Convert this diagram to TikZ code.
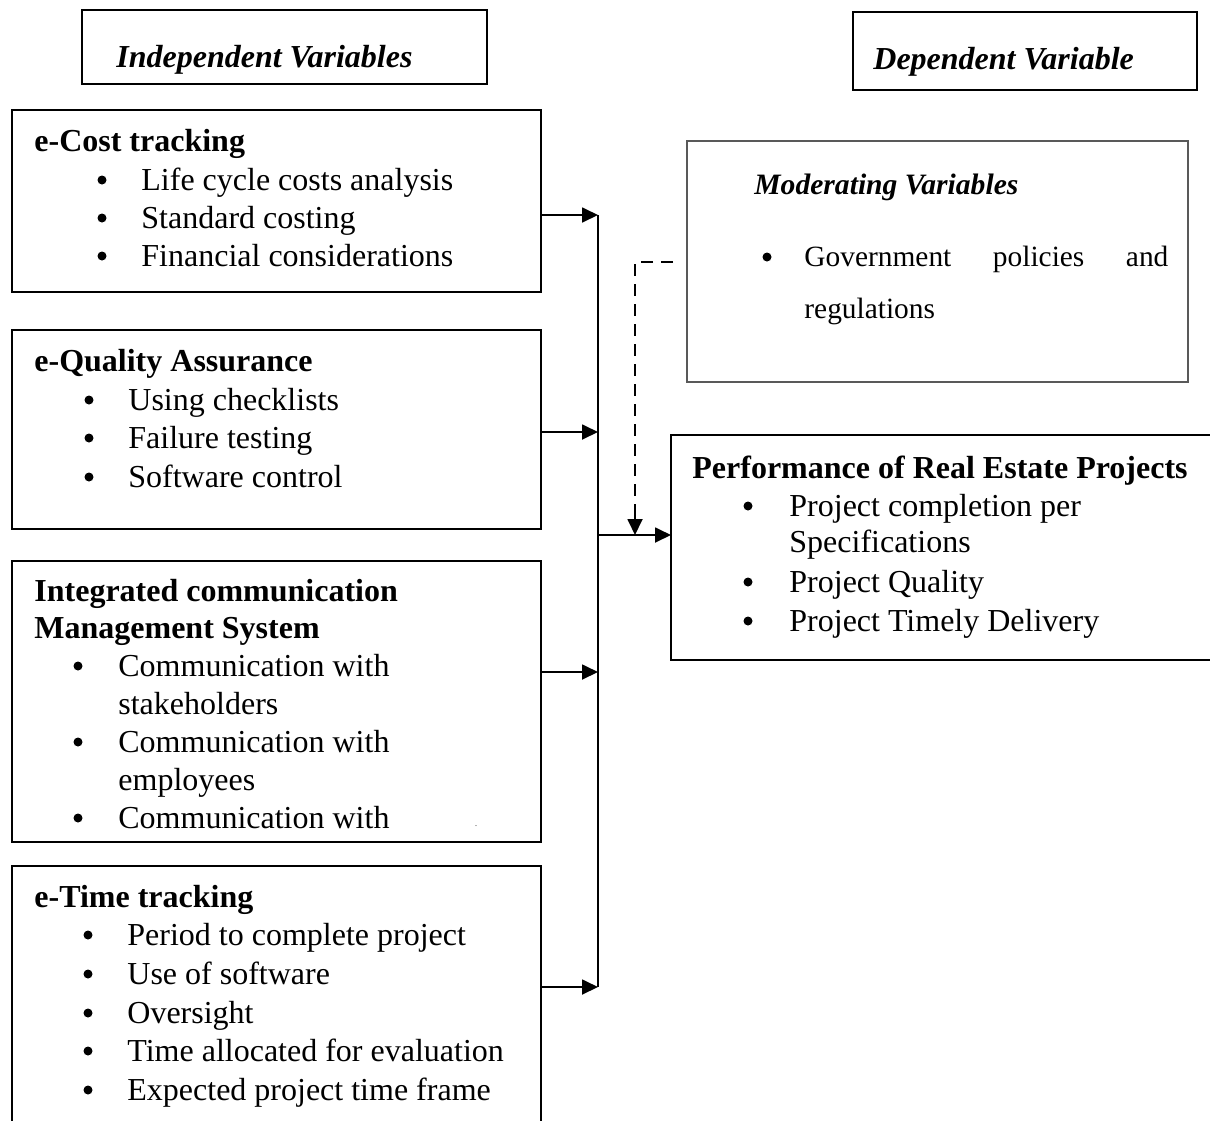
\documentclass[tikz,border=0pt]{standalone}
\usepackage{fontspec}
\setmainfont{Liberation Serif}
\usetikzlibrary{arrows.meta,calc}
\begin{document}
\begin{tikzpicture}[x=0.5pt,y=-0.5pt,
  every node/.style={font=\fontsize{16}{19}\selectfont},
  boxrect/.style={draw=black,line width=0.9pt,anchor=north west,inner sep=0pt,outer sep=0pt},
  modrect/.style={draw=black!65,line width=0.7pt,anchor=north west,inner sep=0pt,outer sep=0pt},
  txt/.style={anchor=base west,inner sep=0pt},
  mtxt/.style={anchor=base west,inner sep=0pt,font=\fontsize{14.7}{18}\selectfont},
  ttl/.style={anchor=base west,inner sep=0pt,font=\fontsize{16}{19}\selectfont\bfseries},
  hdr/.style={anchor=base west,inner sep=0pt,font=\fontsize{16}{19}\selectfont\bfseries\itshape},
  mhdr/.style={anchor=base west,inner sep=0pt,font=\fontsize{14.8}{18}\selectfont\bfseries\itshape},
  bul/.style={circle,fill=black,inner sep=0pt,minimum size=4.5pt},
  arr/.style={line width=0.9pt,-{Triangle[length=8pt,width=7.5pt]}},
  link/.style={line width=0.9pt},
  dsh/.style={line width=0.7pt,dash pattern=on 6pt off 4pt}
]
\useasboundingbox (0,0) rectangle (1210,1120);
\clip (0,0) rectangle (1210,1120);

% header boxes
\node[boxrect,minimum width=202.5pt,minimum height=37pt] (indep) at (82,10) {};
\node[hdr] (indept) at (116,67) {Independent Variables};
\node[boxrect,minimum width=172pt,minimum height=39pt] (dep) at (853,12) {};
\node[hdr] (dept) at (873,69) {Dependent Variable};

% e-Cost tracking
\node[boxrect,minimum width=264.5pt,minimum height=91pt] (cost) at (12,110) {};
\node[ttl] (costt) at (34,151) {e-Cost tracking};
\node[bul] (cb1) at (102,180) {};
\node[txt] (c1) at (141,190) {Life cycle costs analysis};
\node[bul] (cb2) at (102,218) {};
\node[txt] (c2) at (141,228) {Standard costing};
\node[bul] (cb3) at (102,256) {};
\node[txt] (c3) at (141,266) {Financial considerations};

% e-Quality Assurance
\node[boxrect,minimum width=264.5pt,minimum height=99.5pt] (qual) at (12,330) {};
\node[ttl] (qualt) at (34,371) {e-Quality Assurance};
\node[bul] (qb1) at (89,400) {};
\node[txt] (q1) at (128,410) {Using checklists};
\node[bul] (qb2) at (89,438) {};
\node[txt] (q2) at (128,448) {Failure testing};
\node[bul] (qb3) at (89,477) {};
\node[txt] (q3) at (128,487) {Software control};

% Integrated communication Management System
\node[boxrect,minimum width=264.5pt,minimum height=140.5pt] (comm) at (12,561) {};
\node[ttl] (commt1) at (34,601) {Integrated communication};
\node[ttl] (commt2) at (34,638) {Management System};
\node[bul] (mb1) at (78,666) {};
\node[txt] (m1) at (118,676) {Communication with};
\node[txt] (m1b) at (118,714) {stakeholders};
\node[bul] (mb2) at (78,742) {};
\node[txt] (m2) at (118,752) {Communication with};
\node[txt] (m2b) at (118,790) {employees};
\node[bul] (mb3) at (78,818) {};
\node[txt] (m3) at (118,828) {Communication with};
\node[anchor=base,inner sep=0pt,font=\fontsize{4}{5}\selectfont] (dot) at (476,826) {.};

% e-Time tracking
\node[boxrect,minimum width=264.5pt,minimum height=132pt] (time) at (12,866) {};
\node[ttl] (timet) at (34,907) {e-Time tracking};
\node[bul] (tb1) at (88,935) {};
\node[txt] (t1) at (127,945) {Period to complete project};
\node[bul] (tb2) at (88,974) {};
\node[txt] (t2) at (127,984) {Use of software};
\node[bul] (tb3) at (88,1013) {};
\node[txt] (t3) at (127,1023) {Oversight};
\node[bul] (tb4) at (88,1051) {};
\node[txt] (t4) at (127,1061) {Time allocated for evaluation};
\node[bul] (tb5) at (88,1090) {};
\node[txt] (t5) at (127,1100) {Expected project time frame};

% Moderating variables
\node[modrect,minimum width=250.5pt,minimum height=120.5pt] (mod) at (687,141) {};
\node[mhdr] (modt) at (754,194) {Moderating Variables};
\node[bul] (modb1) at (767,257) {};
\node[mtxt] (mod1) at (804,266) {\hbox to 182pt{Government\hfill policies\hfill and}};
\node[mtxt] (mod1b) at (804,318) {regulations};

% Performance of Real Estate Projects
\node[boxrect,minimum width=274.5pt,minimum height=112.5pt] (perf) at (671,435) {};
\node[ttl] (perft) at (692,478) {Performance of Real Estate Projects};
\node[bul] (pb1) at (748,506) {};
\node[txt] (p1) at (789,516) {Project completion per};
\node[txt] (p1b) at (789,552) {Specifications};
\node[bul] (pb2) at (748,582) {};
\node[txt] (p2) at (789,592) {Project Quality};
\node[bul] (pb3) at (748,621) {};
\node[txt] (p3) at (789,631) {Project Timely Delivery};

% connectors
\coordinate (b1) at (598,215);
\coordinate (b2) at (598,432);
\coordinate (b3) at (598,672);
\coordinate (b4) at (598,987);
\coordinate (bm) at (598,535);
\draw[link] (b1) -- (b4);
\draw[arr] (cost.east |- b1) -- (b1);
\draw[arr] (qual.east |- b2) -- (b2);
\draw[arr] (comm.east |- b3) -- (b3);
\draw[arr] (time.east |- b4) -- (b4);
\draw[arr] (bm) -- (bm -| perf.west);

\coordinate (ds) at (673,262);
\coordinate (dc) at (635,262);
\coordinate (de) at (635,535);
\draw[dsh] (ds) -- (dc) -- ($(de)+(0,-22)$);
\draw[line width=0.9pt,-{Triangle[length=8pt,width=7.5pt]}] ($(de)+(0,-24)$) -- (de);
\end{tikzpicture}
\end{document}
